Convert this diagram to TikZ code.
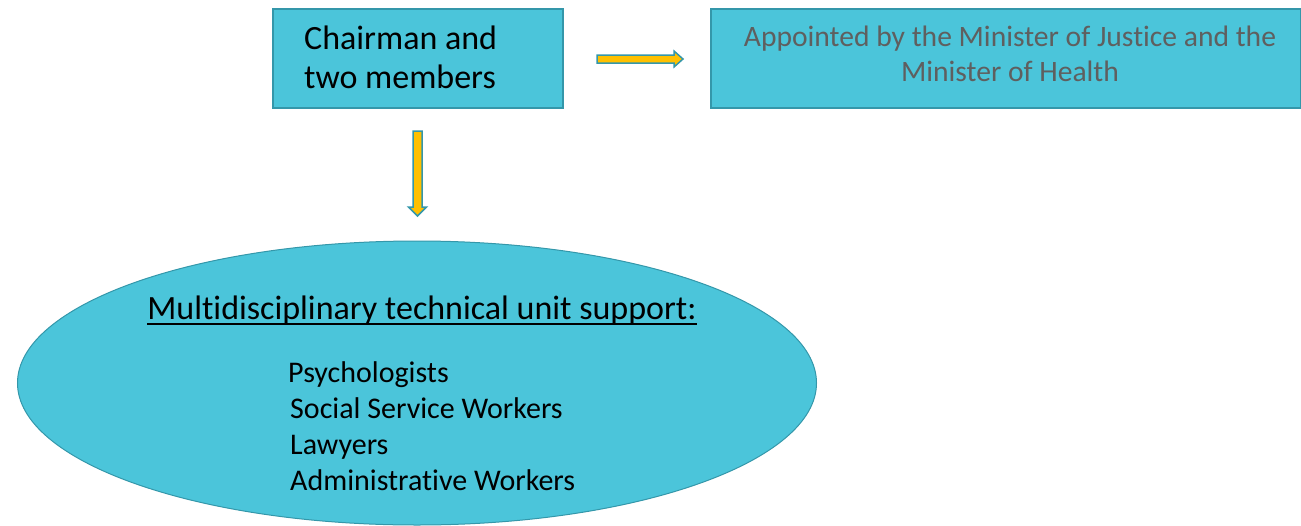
\documentclass[tikz,border=0pt]{standalone}
\usepackage{fontspec}
\setmainfont{Carlito}[Ligatures=NoCommon]
\usetikzlibrary{shapes.geometric}
\definecolor{boxfill}{HTML}{4BC5DA}
\definecolor{boxline}{HTML}{3497AA}
\definecolor{arrowfill}{HTML}{FFC000}
\definecolor{greytext}{HTML}{5F5F5F}
\tikzset{
  box/.style={draw=boxline, fill=boxfill, line width=1.5pt, rectangle, inner sep=0pt, anchor=north west},
  blockarrow/.style={draw=boxline, fill=arrowfill, line width=1.5pt, line join=miter},
  chairtext/.style={anchor=base west, inner sep=0pt, font=\fontsize{34}{39}\selectfont},
  apptext/.style={anchor=base, inner sep=0pt, text=greytext, font=\fontsize{29.6}{35}\selectfont},
  listtext/.style={anchor=base west, inner sep=0pt, font=\fontsize{30}{36}\selectfont},
  titletext/.style={anchor=base, inner sep=0pt, font=\fontsize{34}{40}\selectfont},
}
\begin{document}
\begin{tikzpicture}[x=1pt, y=-1pt]
\useasboundingbox (0,0) rectangle (1301,525);
% boxes
\node[box, minimum width=290, minimum height=99] (chair) at (272,8) {};
\node[chairtext] (chair1) at (304,49) {Chairman and};
\node[chairtext] (chair2) at (304,88) {two members};
\node[box, minimum width=590, minimum height=99] (appoint) at (710,8) {};
\node[apptext] (app1) at (1010,46) {Appointed by the Minister of Justice and the};
\node[apptext] (app2) at (1010,81) {Minister of Health};
% ellipse
\node[ellipse, draw=boxline, fill=boxfill, line width=1pt, minimum width=799, minimum height=284, inner sep=0pt] (unit) at (417,383) {};
\node[titletext] (title) at (422,319) {Multidisciplinary technical unit support:};
\draw[line width=2.5pt] ([yshift=-5]title.base west) -- ([yshift=-5]title.base east);
\node[listtext] (l1) at (288,382) {Psychologists};
\node[listtext] (l2) at (290,418) {Social Service Workers};
\node[listtext] (l3) at (290,454) {Lawyers};
\node[listtext] (l4) at (290,490) {Administrative Workers};
% arrows
\draw[blockarrow] (597,55) -- (674,55) -- (674,51) -- (683,59) -- (674,67) -- (674,63) -- (597,63) -- cycle;
\draw[blockarrow] (413,131) -- (422,131) -- (422,207) -- (426.5,207) -- (417.5,216) -- (408.5,207) -- (413,207) -- cycle;
\end{tikzpicture}
\end{document}
